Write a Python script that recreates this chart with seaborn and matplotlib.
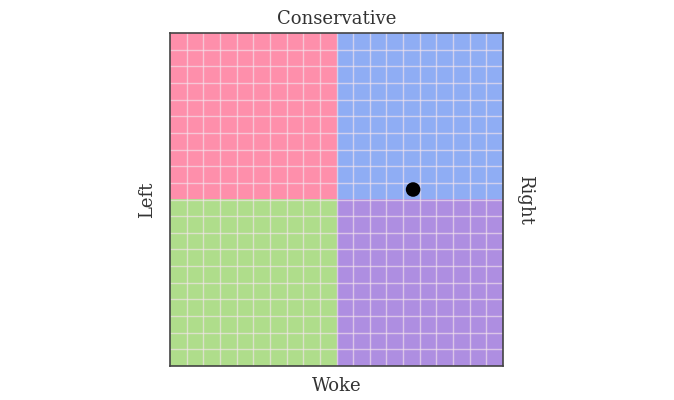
import matplotlib
matplotlib.use("Agg")
import matplotlib.pyplot as plt
import seaborn as sns
import pandas as pd
from matplotlib.patches import Rectangle

# data
quadrants = ["top-left", "top-right", "bottom-left", "bottom-right"]
quad_x = [-10, 0, -10, 0]
quad_y = [0, 0, -10, -10]
quad_colors = ["#fe8fab", "#8fadf4", "#afdd8b", "#ae8ee1"]
point_x = [4.6]
point_y = [0.6]
labels = {"top": "Conservative", "bottom": "Woke", "left": "Left", "right": "Right"}

sns.set_theme(style="white")
plt.rcParams['font.family'] = ['DejaVu Serif']

fig = plt.figure(figsize=(6.74, 4.0), dpi=100)
ax = fig.add_axes([170/674, 1-366/400, 333/674, 333/400])

for qx, qy, c in zip(quad_x, quad_y, quad_colors):
    ax.add_patch(Rectangle((qx, qy), 10, 10, facecolor=c, edgecolor="none", zorder=0))

for v in range(-9, 10):
    ax.axvline(v, color="#f4e4ec", alpha=0.65, lw=1, zorder=1)
    ax.axhline(v, color="#f4e4ec", alpha=0.65, lw=1, zorder=1)

df = pd.DataFrame({"x": point_x, "y": point_y})
sns.scatterplot(data=df, x="x", y="y", ax=ax, color="black", s=110, edgecolor="none", zorder=3, legend=False)

ax.set_xlim(-10, 10)
ax.set_ylim(-10, 10)
ax.set_xticks([])
ax.set_yticks([])
ax.set_xlabel("")
ax.set_ylabel("")
for s in ax.spines.values():
    s.set_color("#444444")
    s.set_linewidth(1.2)

fs = 13
ax.text(0.5, 1.015, labels["top"], transform=ax.transAxes, ha="center", va="bottom", fontsize=fs, color="#333333")
ax.text(0.5, -0.033, labels["bottom"], transform=ax.transAxes, ha="center", va="top", fontsize=fs, color="#333333")
ax.text(-0.068, 0.5, labels["left"], transform=ax.transAxes, ha="center", va="center", rotation=90, fontsize=fs, color="#333333")
ax.text(1.065, 0.5, labels["right"], transform=ax.transAxes, ha="center", va="center", rotation=270, fontsize=fs, color="#333333")

fig.savefig("out.png", dpi=100)
